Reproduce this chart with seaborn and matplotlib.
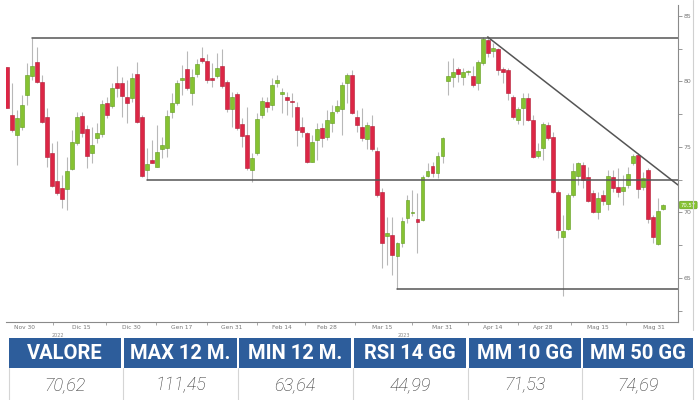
import numpy as np
import pandas as pd
import matplotlib
matplotlib.use("Agg")
import matplotlib.pyplot as plt
from matplotlib.patches import Rectangle
from matplotlib.lines import Line2D
import seaborn as sns

# daily candles
opens = [81.13, 77.44, 75.91, 76.55, 78.97, 80.42, 81.46, 79.98, 77.31, 74.56,
         72.40, 71.84, 71.76, 73.29, 75.28, 77.36, 76.35, 74.51, 75.66, 75.99,
         78.38, 78.13, 79.91, 79.86, 78.79, 78.71, 80.55, 77.26, 73.24, 74.00,
         73.50, 74.84, 74.90, 77.69, 78.33, 80.14, 80.93, 79.15, 80.57, 81.77,
         81.59, 80.24, 80.42, 81.18, 79.98, 77.87, 79.04, 76.75, 75.91, 73.24,
         74.51, 77.44, 78.46, 78.20, 79.91, 79.08, 78.79, 78.54, 78.08, 76.55,
         76.09, 73.88, 75.53, 76.42, 75.74, 76.80, 77.77, 77.87, 79.86, 80.49,
         77.31, 76.55, 75.58, 76.60, 74.72, 71.59, 68.23, 68.28, 66.68, 67.64,
         69.55, 69.95, 69.50, 69.42, 72.81, 73.55, 72.99, 74.31, 80.06, 80.37,
         80.95, 80.37, 80.70, 80.44, 79.86, 81.39, 83.17, 82.35, 82.45, 80.93,
         80.88, 78.84, 77.06, 77.95, 78.71, 77.06, 74.31, 74.90, 76.68, 75.79,
         71.59, 68.16, 68.71, 71.34, 72.79, 73.63, 72.74, 71.52, 70.06, 71.34,
         70.65, 72.74, 71.97, 71.67, 72.10, 73.75, 74.39, 71.92, 73.25, 69.63,
         67.60, 70.24]
highs = [81.13, 79.86, 77.82, 78.97, 81.39, 83.34, 82.66, 80.49, 77.95, 75.33,
         75.46, 72.86, 74.26, 76.30, 77.69, 77.69, 76.68, 76.55, 76.80, 78.59,
         78.84, 79.86, 81.18, 80.37, 80.11, 80.62, 81.51, 77.44, 74.90, 75.53,
         76.68, 75.79, 77.82, 79.09, 80.11, 81.26, 82.35, 80.93, 81.69, 82.66,
         82.10, 81.39, 82.15, 82.45, 80.11, 79.22, 79.22, 77.19, 78.08, 74.51,
         77.57, 78.84, 78.84, 80.24, 80.49, 79.48, 79.22, 79.10, 78.46, 77.31,
         76.17, 75.91, 76.80, 76.80, 77.82, 78.20, 78.59, 79.99, 80.62, 80.88,
         77.82, 77.95, 76.93, 77.44, 75.02, 71.84, 69.68, 69.68, 67.77, 69.68,
         71.33, 71.70, 71.46, 72.86, 73.75, 73.88, 74.64, 75.74, 81.59, 81.77,
         81.13, 81.00, 80.90, 81.18, 81.64, 83.42, 83.47, 82.91, 82.53, 81.13,
         81.00, 78.97, 78.08, 79.09, 79.09, 77.44, 75.28, 76.93, 76.90, 76.17,
         71.72, 69.81, 71.46, 73.75, 73.88, 73.88, 73.50, 71.72, 71.59, 71.72,
         73.25, 73.25, 73.37, 72.86, 73.50, 74.47, 74.52, 73.12, 73.37, 69.81,
         71.08, 70.65]
lows = [77.95, 76.17, 73.62, 76.30, 78.20, 80.11, 79.86, 76.86, 73.50, 71.97,
        71.33, 70.31, 70.19, 73.24, 75.15, 75.79, 73.37, 73.75, 75.28, 75.79,
        77.19, 77.95, 78.84, 77.31, 76.80, 78.46, 76.80, 72.73, 72.48, 73.75,
        73.45, 74.13, 74.26, 77.19, 78.20, 78.97, 79.35, 78.20, 80.37, 81.39,
        79.86, 79.61, 80.24, 79.48, 77.69, 76.55, 76.30, 75.02, 73.24, 72.35,
        74.39, 77.19, 77.69, 77.82, 79.60, 77.57, 77.44, 77.31, 75.07, 75.79,
        73.80, 73.88, 74.01, 74.97, 75.53, 76.17, 77.57, 75.91, 78.33, 77.52,
        76.17, 75.48, 74.82, 74.72, 71.21, 65.73, 65.99, 65.22, 64.14, 67.39,
        69.20, 69.70, 66.88, 69.37, 72.73, 72.73, 72.60, 73.75, 78.97, 79.60,
        79.98, 79.73, 80.50, 79.60, 79.35, 81.26, 81.89, 81.89, 80.49, 79.91,
        78.59, 77.11, 76.75, 76.68, 77.01, 74.13, 74.13, 74.01, 75.50, 71.50,
        68.03, 63.64, 68.66, 71.21, 72.10, 71.84, 70.83, 69.94, 69.48, 70.57,
        70.19, 71.59, 71.21, 70.57, 71.84, 73.63, 71.08, 71.72, 69.17, 67.65,
        67.52, 70.19]
closes = [77.95, 76.30, 77.19, 78.20, 80.49, 81.18, 79.98, 76.93, 74.26, 72.02,
          71.46, 71.00, 73.16, 75.35, 77.26, 76.09, 74.31, 75.15, 76.09, 78.28,
          77.44, 79.53, 79.48, 78.89, 78.38, 80.24, 76.93, 72.78, 73.67, 73.80,
          74.64, 75.15, 77.39, 78.38, 79.91, 80.19, 79.48, 80.32, 81.31, 81.59,
          80.11, 80.11, 81.00, 79.65, 77.87, 78.84, 76.42, 75.84, 73.37, 74.13,
          77.11, 78.51, 78.03, 79.73, 80.11, 79.12, 78.59, 78.41, 76.30, 76.12,
          73.88, 75.41, 76.35, 75.66, 77.06, 77.69, 78.13, 79.73, 80.49, 77.57,
          76.68, 75.66, 76.68, 74.82, 71.33, 67.64, 68.41, 66.75, 67.64, 69.35,
          70.95, 70.05, 69.25, 72.73, 73.19, 72.99, 74.34, 75.66, 80.42, 80.70,
          80.57, 80.70, 80.72, 79.73, 81.51, 83.22, 82.15, 82.53, 80.88, 80.75,
          79.09, 77.26, 77.87, 78.77, 77.06, 74.26, 74.72, 76.75, 75.66, 71.59,
          68.66, 68.59, 71.34, 73.17, 73.75, 72.48, 70.90, 70.06, 71.08, 70.90,
          72.79, 71.85, 71.59, 71.97, 72.92, 74.31, 71.77, 72.61, 69.48, 68.10,
          70.14, 70.57]

tick_pos = [3.65, 14.8, 24.8, 34.9, 44.9, 54.9, 64.0, 75.0, 87.0, 97.0, 107.1, 118.1, 129.2]
tick_labels = ["Nov 30", "Dic 15", "Dic 30", "Gen 17", "Gen 31", "Feb 14", "Feb 28",
               "Mar 15", "Mar 31", "Apr 14", "Apr 28", "Mag 15", "Mag 31"]
year_pos = [10.2, 79.3]
year_labels = ["2022", "2023"]

# drawn trend lines: (start index, level)
levels = [(5, 83.34), (28, 72.48), (78, 64.14)]
trend_line = [(96, 83.40), (134, 72.10)]
last_tag = "70.57"

table_headers = ["VALORE", "MAX 12 M.", "MIN 12 M.", "RSI 14 GG", "MM 10 GG", "MM 50 GG"]
table_values = ["70,62", "111,45", "63,64", "44,99", "71,53", "74,69"]

sns.set_theme(style="white")
plt.rcParams["font.family"] = ["DejaVu Sans"]

df = pd.DataFrame({"open": opens, "high": highs, "low": lows, "close": closes})
df["idx"] = np.arange(len(df))
up = df["close"] >= df["open"]
body_col = np.where(up, "#86c232", "#dc2645")
edge_col = np.where(up, "#5f9a1c", "#b01a34")

fig = plt.figure(figsize=(7, 4), dpi=100)
ax = fig.add_axes([6 / 700, 78 / 400, 672 / 700, 317 / 400])

ax.vlines(df["idx"], df["low"], df["high"], color="#b8b8b8", lw=0.8, zorder=1)
heights = np.maximum((df["close"] - df["open"]).abs(), 0.1)
ax.bar(df["idx"], heights, bottom=df[["open", "close"]].min(axis=1), width=0.78,
       color=body_col, edgecolor=edge_col, linewidth=0.4, zorder=2)

x_end = trend_line[1][0]
for start, lvl in levels:
    ax.plot([start, x_end], [lvl, lvl], color="#555555", lw=1.1, zorder=3)
ax.plot([p[0] for p in trend_line], [p[1] for p in trend_line], color="#555555", lw=1.1, zorder=3)

ax.set_xlim(-0.14, 134.0)
ax.set_ylim(61.64, 85.84)

ax.yaxis.tick_right()
ax.set_yticks([65, 70, 75, 80, 85])
ax.set_yticks([62.5, 67.5, 72.5, 77.5, 82.5], minor=True)
ax.tick_params(axis="y", which="both", direction="out", length=3, width=0.6,
               color="#888888", labelsize=4.5, labelcolor="#777777", pad=1, right=True)
ax.set_xticks(tick_pos)
ax.set_xticklabels(tick_labels)
mids = [(a + b) / 2 for a, b in zip(tick_pos[:-1], tick_pos[1:])]
ax.set_xticks(mids, minor=True)
ax.tick_params(axis="x", which="major", length=0, labelsize=4.2, labelcolor="#777777", pad=2)
ax.tick_params(axis="x", which="minor", direction="out", length=2.5, width=0.6,
               color="#999999", bottom=True)
for xp, yl in zip(year_pos, year_labels):
    ax.text(xp, -0.035, yl, transform=ax.get_xaxis_transform(), ha="center", va="top",
            fontsize=3.5, color="#888888")

for side in ["top", "left"]:
    ax.spines[side].set_visible(False)
for side in ["right", "bottom"]:
    ax.spines[side].set_color("#8a8a8a")
    ax.spines[side].set_linewidth(0.8)

ax.text(1.004, closes[-1], last_tag, transform=ax.get_yaxis_transform(), ha="left",
        va="center", fontsize=3.8, color="white", clip_on=False,
        bbox=dict(boxstyle="round,pad=0.25", fc="#86c232", ec="#5f9a1c", lw=0.4))

fig.add_artist(Line2D([693 / 700, 693 / 700], [1.0, 1 - 330 / 400], color="#d0d0d0", lw=0.8))

# table below the chart
tab = fig.add_axes([0, 0, 1, 64 / 400])
tab.set_xlim(0, 700)
tab.set_ylim(400, 336)
tab.axis("off")
cells = [(9, 121), (124, 237), (239, 351), (354, 466), (469, 581), (583, 693)]
for (x0, x1), head, val in zip(cells, table_headers, table_values):
    tab.add_patch(Rectangle((x0, 338), x1 - x0, 30, color="#2d5d9b", lw=0))
    tab.text((x0 + x1) / 2, 353.5, head, ha="center", va="center", color="white",
             fontsize=14.5, fontweight="bold", family=["Roboto", "DejaVu Sans"])
    tab.text((x0 + x1) / 2, 385, val, ha="center", va="center", color="#2e2e2e",
             fontsize=13, style="italic", family=["Roboto", "DejaVu Sans"], fontweight="light")
for xs in [9, 122.5, 238, 352.5, 467.5, 582, 693]:
    tab.plot([xs, xs], [368, 400], color="#d5d5d5", lw=0.8)

fig.savefig("out.png", dpi=100, facecolor="white")
